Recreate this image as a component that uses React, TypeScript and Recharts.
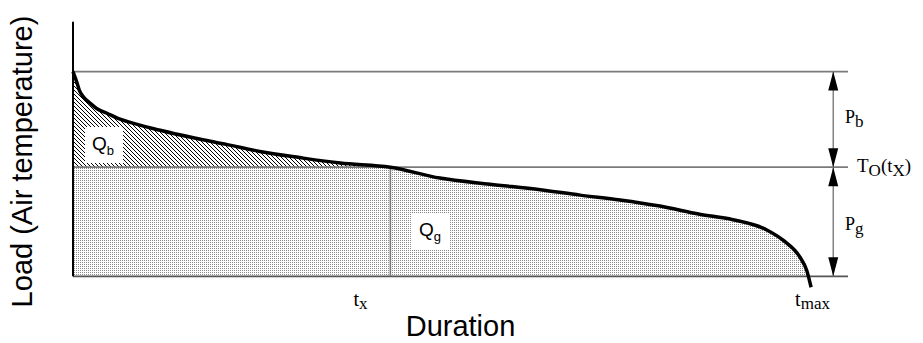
import React from 'react'
import { ComposedChart, Area, Line, XAxis, YAxis, ReferenceLine, ReferenceDot, Label } from 'recharts'

// load duration curve (duration 0..100 = t_max, load 30 = peak)
const durations = [0, 0.5, 0.85, 1.4, 2.3, 3.2, 4.6, 6, 7.3, 11.8, 16.3, 20.9, 25.3, 30.7, 36.2, 43, 49.7, 56.5, 63.3, 68.7, 74.1, 79.5, 84.9, 89.4, 94, 96.2, 98.5, 99.4, 100]
const loads = [30, 28.5, 27.3, 26.3, 25.4, 24.6, 23.9, 23.2, 22.7, 21.4, 20.3, 19.3, 18.3, 17.4, 16.6, 16, 14.4, 13.5, 12.7, 11.9, 11.2, 10.3, 9.1, 8.3, 6.8, 5.3, 2.8, 0.9, -1.6]

const peakLoad = 30
const balanceLoad = 16 // T_o(t_x)
const tx = 43
const tmax = 100
const arrowX = 103
const xTicks = [tx, tmax]

const data = durations.map((d, i) => ({
  d,
  load: loads[i],
  hatch: d <= tx ? [balanceLoad, loads[i]] : null,
  dots: [0, Math.max(0, Math.min(loads[i], balanceLoad))],
}))

const SANS = '"Liberation Sans", Arial, Helvetica, sans-serif'
const SERIF = '"Liberation Serif", "Times New Roman", Times, serif'
const GREY = '#7a7a7a'

const TimeTick = (props: any) => {
  const { x, y, payload } = props
  if (payload.value === tx) {
    return (
      <text x={x - 37} y={y + 16} fontFamily={SERIF} fontSize={20} fill="#000">
        t<tspan dy={3} fontSize={17}>x</tspan>
      </text>
    )
  }
  return (
    <text x={x - 16} y={y + 16} fontFamily={SERIF} fontSize={20} fill="#000">
      t<tspan dy={3} fontSize={17}>max</tspan>
    </text>
  )
}

const arrowHead = (dir: 'up' | 'down') => (p: any) => {
  const { cx, cy } = p
  const len = dir === 'up' ? 19 : -19
  return <polygon points={`${cx},${cy} ${cx - 5},${cy + len} ${cx + 5},${cy + len}`} fill="#000" />
}

const qLabel = (main: string, sub: string) => (p: any) => {
  const { cx, cy } = p
  return (
    <g>
      <rect x={cx - 19} y={cy - 18} width={38} height={36} fill="#fff" />
      <text x={cx - 12} y={cy + 5} fontFamily={SANS} fontSize={19} fill="#000">
        {main}
        <tspan dy={5} fontSize={13}>{sub}</tspan>
      </text>
    </g>
  )
}

const pLabel = (sub: string, dy: number) => (p: any) => {
  const { cx, cy } = p
  return (
    <text x={cx - 3} y={cy + dy} fontFamily={SERIF} fontSize={18} fill="#000">
      P<tspan dy={4} fontSize={17}>{sub}</tspan>
    </text>
  )
}

const toLabel = (p: any) => {
  const { cx, cy } = p
  return (
    <text x={cx + 9} y={cy + 5} fontFamily={SERIF} fontSize={19} fill="#000">
      T<tspan dy={4} fontSize={17}>O</tspan>
      <tspan dy={-4}>(t</tspan>
      <tspan dy={4} fontSize={17}>X</tspan>
      <tspan dy={-4}>)</tspan>
    </text>
  )
}

const YTitle = (props: any) => {
  const { viewBox } = props
  const x = viewBox.x + 32
  const y = viewBox.y + viewBox.height / 2 + 8
  return (
    <text x={x} y={y} transform={`rotate(-90 ${x} ${y})`} textAnchor="middle" fontFamily={SANS} fontSize={29} fill="#000">
      Load (Air temperature)
    </text>
  )
}

const XTitle = (props: any) => {
  const { viewBox } = props
  return (
    <text x={viewBox.x + viewBox.width / 2} y={viewBox.y + 46} textAnchor="middle" fontFamily={SANS} fontSize={29} fill="#000">
      Duration
    </text>
  )
}

export default function App() {
  return (
    <div style={{ position: 'absolute', left: 0, top: 0, background: '#fff' }}>
      <ComposedChart width={923} height={343} data={data} margin={{ top: 17, right: 75, bottom: 0, left: 0 }}>
        <defs>
          <pattern id="hatch" patternUnits="userSpaceOnUse" width={4} height={4}>
            <path d="M-1,-1 L5,5 M3,-1 L5,1 M-1,3 L1,5" stroke="#000" strokeWidth={1} shapeRendering="crispEdges" />
          </pattern>
          <pattern id="dots" patternUnits="userSpaceOnUse" width={2} height={2}>
            <rect x={0} y={0} width={1} height={1} fill="#8a8a8a" />
          </pattern>
        </defs>
        <XAxis
          dataKey="d"
          type="number"
          domain={[0, 105]}
          ticks={xTicks}
          axisLine={false}
          tickLine={false}
          tickSize={0}
          tickMargin={0}
          height={53}
          tick={<TimeTick />}
        >
          <Label content={<XTitle />} />
        </XAxis>
        <YAxis type="number" domain={[-2, 38]} width={73} axisLine={false} tickLine={false} tick={false}>
          <Label content={<YTitle />} />
        </YAxis>

        <Area type="monotone" dataKey="dots" stroke="none" fill="url(#dots)" fillOpacity={1} isAnimationActive={false} />
        <Area type="monotone" dataKey="hatch" stroke="none" fill="url(#hatch)" fillOpacity={1} isAnimationActive={false} />

        <ReferenceLine y={peakLoad} stroke={GREY} strokeWidth={1.6} />
        <ReferenceLine y={balanceLoad} stroke={GREY} strokeWidth={1.6} />
        <ReferenceLine y={0} stroke="#555" strokeWidth={1.6} />
        <ReferenceLine segment={[{ x: tx, y: 0 }, { x: tx, y: balanceLoad }]} stroke={GREY} strokeWidth={1.6} />
        <ReferenceLine segment={[{ x: 0, y: 0 }, { x: 0, y: 37.3 }]} stroke="#000" strokeWidth={2} />
        <ReferenceLine segment={[{ x: arrowX, y: 0 }, { x: arrowX, y: peakLoad }]} stroke={GREY} strokeWidth={1.4} />

        <Line type="monotone" dataKey="load" stroke="#000" strokeWidth={3.5} dot={false} isAnimationActive={false} />

        <ReferenceDot x={arrowX} y={peakLoad} r={0} shape={arrowHead('up')} ifOverflow="visible" />
        <ReferenceDot x={arrowX} y={balanceLoad} r={0} shape={arrowHead('down')} ifOverflow="visible" />
        <ReferenceDot x={arrowX} y={balanceLoad} r={0} shape={arrowHead('up')} ifOverflow="visible" />
        <ReferenceDot x={arrowX} y={0} r={0} shape={arrowHead('down')} ifOverflow="visible" />

        <ReferenceDot x={4.2} y={19.25} r={0} shape={qLabel('Q', 'b')} ifOverflow="visible" />
        <ReferenceDot x={48.5} y={6.64} r={0} shape={qLabel('Q', 'g')} ifOverflow="visible" />
        <ReferenceDot x={105} y={23} r={0} shape={pLabel('b', 4)} ifOverflow="visible" />
        <ReferenceDot x={105} y={8} r={0} shape={pLabel('g', 8)} ifOverflow="visible" />
        <ReferenceDot x={105} y={balanceLoad} r={0} shape={toLabel} ifOverflow="visible" />
      </ComposedChart>
    </div>
  )
}
